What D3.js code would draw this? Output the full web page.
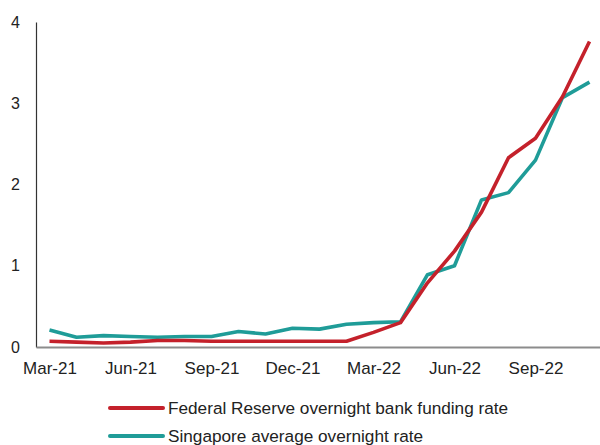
<!DOCTYPE html>
<html><head><meta charset="utf-8">
<script src="https://cdn.jsdelivr.net/npm/d3@7"></script>
<style>body{margin:0;background:#fff}svg{display:block;font-family:"Liberation Sans",Arial,sans-serif}</style>
</head><body><svg id="c" width="600" height="445"></svg>
<script>
const months = ["Mar-21","Apr-21","May-21","Jun-21","Jul-21","Aug-21","Sep-21","Oct-21","Nov-21","Dec-21","Jan-22","Feb-22","Mar-22","Apr-22","May-22","Jun-22","Jul-22","Aug-22","Sep-22","Oct-22","Nov-22"];
const fedRate = [0.07,0.06,0.05,0.06,0.08,0.08,0.07,0.07,0.07,0.07,0.07,0.07,0.18,0.30,0.79,1.18,1.66,2.33,2.57,3.08,3.76];
const soraRate = [0.21,0.12,0.14,0.13,0.12,0.13,0.13,0.19,0.16,0.23,0.22,0.28,0.30,0.31,0.89,1.00,1.81,1.90,2.30,3.07,3.26];
const xTickLabels = ["Mar-21","Jun-21","Sep-21","Dec-21","Mar-22","Jun-22","Sep-22"];
const yTicks = [0,1,2,3,4];
const seriesNames = ["Federal Reserve overnight bank funding rate","Singapore average overnight rate"];
const colors = ["#c4212b","#1f9c98"];

(function(){
const svg = d3.select("#c");
const mLeft = 36, mRight = 603, mTop = 22, mBottom = 347;
const x = d3.scalePoint().domain(months).range([mLeft, mRight]).padding(0.5);
const y = d3.scaleLinear().domain([0,4]).range([mBottom, mTop]);

const ya = svg.append("g").attr("transform",`translate(${mLeft},0)`)
  .call(d3.axisLeft(y).tickValues(yTicks).tickSize(0).tickPadding(16).tickFormat(d3.format("d")));
ya.select(".domain").attr("stroke","#333").attr("stroke-width",1.2);
ya.selectAll("text").attr("font-size",16).attr("fill","#222").attr("font-family","Liberation Sans, Arial, sans-serif");

const xa = svg.append("g").attr("transform",`translate(0,${mBottom})`)
  .call(d3.axisBottom(x).tickValues(xTickLabels).tickSize(0).tickPadding(15));
xa.select(".domain").attr("stroke","#8c8c8c").attr("stroke-width",2);
xa.selectAll("text").attr("font-size",17).attr("fill","#222").attr("font-family","Liberation Sans, Arial, sans-serif");

const line = d3.line().x((d,i)=>x(months[i])).y(d=>y(d));
[[soraRate,1],[fedRate,0]].forEach(([s,ci])=>{
  svg.append("path").datum(s).attr("d",line).attr("fill","none")
    .attr("stroke",colors[ci]).attr("stroke-width",3.6).attr("stroke-linejoin","round");
});
const lg = svg.append("g");
seriesNames.forEach((n,i)=>{
  const yy = 408 + i*28;
  lg.append("line").attr("x1",110).attr("x2",163).attr("y1",yy).attr("y2",yy)
    .attr("stroke",colors[i]).attr("stroke-width",4).attr("stroke-linecap","round");
  lg.append("text").attr("x",168).attr("y",yy+6).attr("font-size",17.2).attr("fill","#222").text(n);
});
})();
</script></body></html>
